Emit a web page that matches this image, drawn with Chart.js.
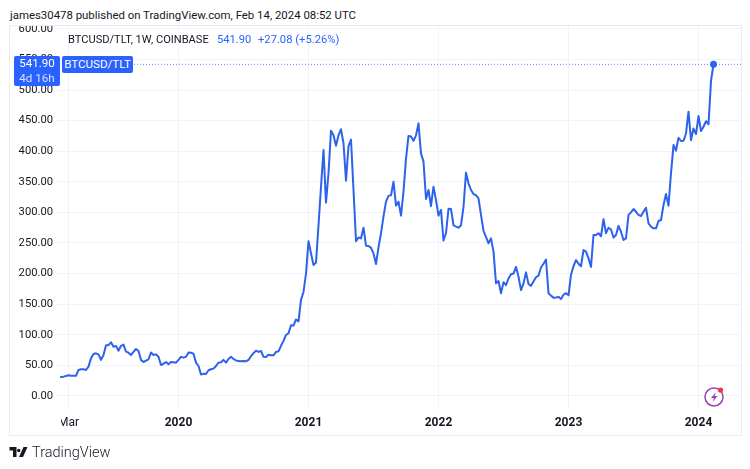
<!DOCTYPE html>
<html>
<head>
<meta charset="utf-8">
<script src="https://cdn.jsdelivr.net/npm/chart.js@4"></script>
<style>
html,body{margin:0;padding:0;background:#fff;width:750px;height:469px;overflow:hidden;font-family:Roboto,sans-serif;}
#wrap{position:relative;width:750px;height:469px;}
canvas{position:absolute;left:0;top:0;}
.abs{position:absolute;white-space:nowrap;}
#head{left:0;top:0;width:750px;height:25px;background:#fff;color:#131722;font-size:11.4px;line-height:14px;}
#head span{position:absolute;left:10px;top:8px;}
#frame{left:9px;top:25px;width:731px;height:409px;border:1px solid #e9ebef;box-sizing:content-box;pointer-events:none;}
.blue{background:#2962ff;color:#fff;border-radius:2px;text-align:center;font-size:11.6px;}
.tv{color:#2962ff;}
</style>
</head>
<body>
<div id="wrap">
<canvas id="c" width="750" height="469"></canvas>
<div class="abs" style="left:54px;top:414px;width:7px;height:16px;background:#fff;"></div>
<div class="abs" id="frame"></div>
<div class="abs" id="head"><span>james30478 published on TradingView.com, Feb 14, 2024 08:52 UTC</span></div>
<div class="abs" style="left:68px;top:32px;font-size:11.1px;line-height:16px;color:#131722;">BTCUSD/TLT, 1W, COINBASE</div>
<div class="abs tv" style="left:217px;top:32px;font-size:11.2px;line-height:16px;">541.90</div>
<div class="abs tv" style="left:258px;top:32px;font-size:11.2px;line-height:16px;">+27.08 (+5.26%)</div>
<div class="abs blue" style="left:14px;top:56px;width:46px;height:30px;line-height:15px;">541.90<br><span style="color:#d6e0ff">4d 16h</span></div>
<div class="abs blue" style="left:62px;top:56px;width:71px;height:17px;line-height:17px;">BTCUSD/TLT</div>
<svg class="abs" style="left:703px;top:385px" width="24" height="24" viewBox="0 0 24 24">
  <circle cx="11" cy="12" r="9" fill="#fff" stroke="#9c3fb0" stroke-width="1.5"/>
  <path d="M13 7 L8 13 L11 13 L9.5 17 L14.5 11 L11.5 11 Z" fill="#9c3fb0"/>
  <circle cx="17.5" cy="5" r="2.6" fill="#f23645"/>
</svg>
<svg class="abs" style="left:9px;top:447px" width="19" height="10" viewBox="0 0 36 20">
  <path d="M0 0H14V20H7V7H0Z M15 7a3.5 3.5 0 1 0 7 0a3.5 3.5 0 1 0 -7 0Z M28 0H36L27 20H19Z" fill="#131722"/>
</svg>
<div class="abs" style="left:32px;top:444px;font-family:Roboto,sans-serif;font-weight:300;font-size:14.5px;line-height:18px;color:#131722;">TradingView</div>
</div>
<script>
const weeklyClose = [
31,31.6,32.7,33.8,33,33,33,42.5,43.6,43.6,42.5,48,61.5,68.6,69.7,68,59,67,83,83,
87.7,80.6,81.7,74,82,84,72.4,70.8,67,72,76.8,73.5,59,55.5,57.7,60,71,67,68,64,
50.6,53,55.5,52,55.5,55,54.5,59,64,62.6,64,71,70.8,69,54.5,49,35,36.5,36,42,
43.6,44.7,49,54.5,55,59,54.5,60.5,64,60.5,58,57,56.6,57,56.6,59,65,70,74,72,
73.5,64,63.7,67.5,66.5,66.5,72,73,82,90,99.7,102.4,115.5,115,125,122,157,170,200,253,
233,214,218,279,342,402,316,364,433.5,426,409,426,436,413,352,408.5,419,336.6,253,259,
257.6,275,245.6,245,242,233,215.7,243,266,293,317.5,327,328,350,311,317.5,294.7,334,388,425,
424,417,426,445.5,396.5,383,322,336.6,310.5,342,320,294.7,304,254,266,306,305.6,279,276.7,275,
279,309,365,347.5,336.6,330,328,323,296,270,260,249.5,257.6,236,184,188,168,186,181,192,
199,200,211,195,173,184,202,183,180,187,194,196.6,210,216,223,168,164,160.7,161,162,
158.5,165.6,168,164.5,198,212,222,216,212,238.6,236,225,211,263,263,266,261,289,266,275,
272,259,263,278,268.5,255,257.6,296,300,305.6,301,296,294,301,307.7,282,276.7,274,274,286,
287.6,312,330,311,364,410,401,422,416.7,417,429,464.6,418,437,428,457.5,433,440,449,444,
514.82,541.9];
const yTickValues = [0,50,100,150,200,250,300,350,400,450,500,550,600];
const xTickWeeks = [3,47,99,151,203,255];
const xTickLabels = ['Mar','2020','2021','2022','2023','2024'];
const lastPrice = weeklyClose[weeklyClose.length-1];
const lineColor = '#2d62ec', gridColor = '#f0f3fa', textColor = '#131722';
const uiFont = 'Roboto, sans-serif';
const lastIdx = weeklyClose.length-1;

new Chart(document.getElementById('c'), {
  type:'line',
  data:{datasets:[
    {label:'BTCUSD/TLT', data:weeklyClose.map((v,i)=>({x:i,y:v})),
     borderColor:lineColor, backgroundColor:lineColor, borderWidth:2, tension:0,
     borderJoinStyle:'round', borderCapStyle:'round',
     pointRadius:ctx=>ctx.dataIndex===lastIdx?3.5:0, pointBorderWidth:0, pointBackgroundColor:lineColor, clip:false},
    {label:'Last price', data:[{x:-2,y:lastPrice},{x:272,y:lastPrice}],
     borderColor:'#5f86f5', borderWidth:1, borderDash:[1,2], pointRadius:0, tension:0}
  ]},
  options:{
    responsive:false, animation:false, events:[],
    layout:{autoPadding:false,padding:{left:9,top:26,right:9,bottom:34}},
    plugins:{legend:{display:false},title:{display:false},tooltip:{enabled:false}},
    scales:{
      x:{type:'linear',min:-2,max:272,
        afterBuildTicks:s=>{s.ticks=xTickWeeks.map(v=>({value:v}));},
        afterFit:s=>{s.height=25;},
        grid:{color:gridColor,drawTicks:false},border:{display:false},
        ticks:{padding:6,maxRotation:0,autoSkip:false,color:textColor,
          font:ctx=>({family:uiFont,size:12,weight:ctx.index===0?'normal':'bold'}),
          callback:(v)=>xTickLabels[xTickWeeks.indexOf(v)]}},
      y:{type:'linear',min:-22.9,max:604.6,
        afterBuildTicks:s=>{s.ticks=yTickValues.map(v=>({value:v}));},
        afterFit:s=>{s.width=47;},
        grid:{color:gridColor,drawTicks:false},border:{display:false},
        ticks:{padding:3,color:textColor,font:{family:uiFont,size:11.2},
          callback:v=>Number(v).toFixed(2)}}
    }
  }
});
</script>
</body>
</html>
